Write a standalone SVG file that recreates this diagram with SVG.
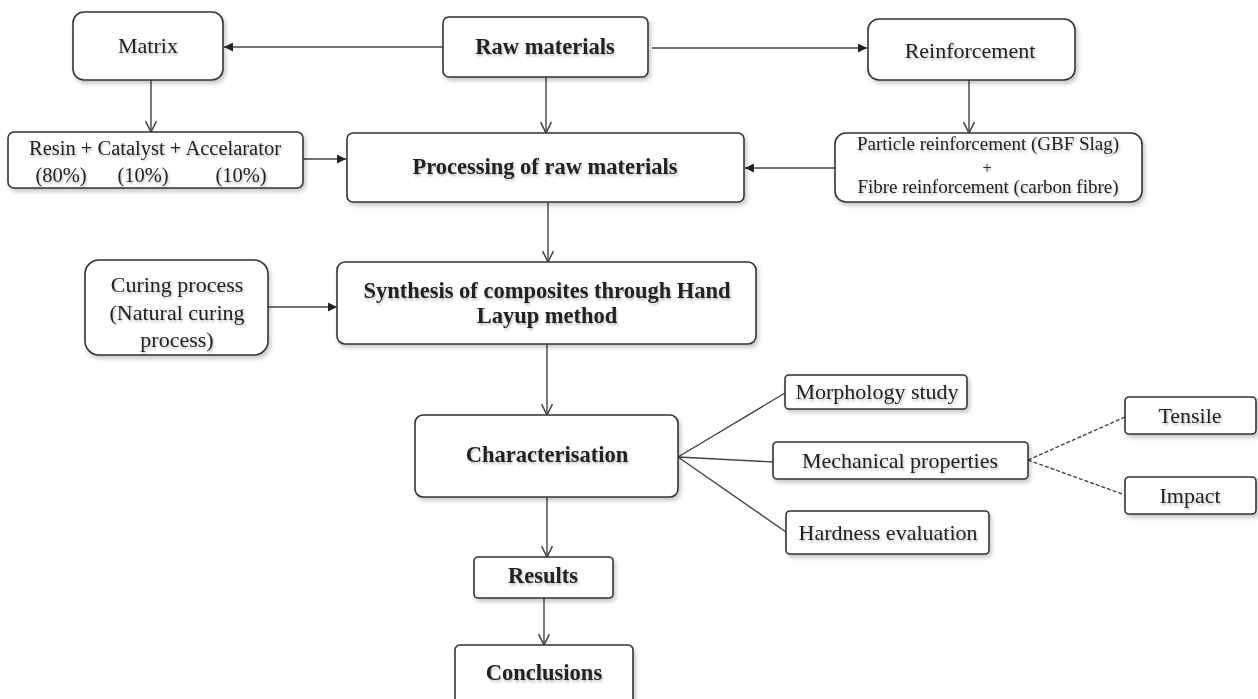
<svg xmlns="http://www.w3.org/2000/svg" width="1258" height="699" viewBox="0 0 1258 699">
<style>
.box{fill:#fff;stroke:#333;stroke-width:1.6;filter:url(#sh)}
.t{font-family:"Liberation Serif","Times New Roman",serif;font-size:22px;fill:#222;text-anchor:middle;filter:url(#tsh)}
.b{font-weight:bold;font-size:22.5px}
.c{fill:none;stroke:#444;stroke-width:1.4}
.fa{marker-end:url(#fill)}
.oa{marker-end:url(#open)}
.d{stroke-dasharray:4 2}
</style>
<defs>
<filter id="sh" x="-10%" y="-10%" width="130%" height="140%">
<feDropShadow dx="2" dy="3" stdDeviation="2" flood-color="#000" flood-opacity="0.22"/>
</filter>
<filter id="tsh" x="-10%" y="-20%" width="130%" height="160%">
<feDropShadow dx="1" dy="2" stdDeviation="1.2" flood-color="#000" flood-opacity="0.25"/>
</filter>
<marker id="fill" viewBox="0 0 10 10" refX="10" refY="5" markerWidth="10" markerHeight="9" markerUnits="userSpaceOnUse" orient="auto">
<path d="M0,0 L10,5 L0,10 z" fill="#222"/>
</marker>
<marker id="open" viewBox="0 0 12 12" refX="11" refY="6" markerWidth="13" markerHeight="13" markerUnits="userSpaceOnUse" orient="auto">
<path d="M1,1 L11,6 L1,11" fill="none" stroke="#444" stroke-width="1.4"/>
</marker>
</defs>

<g id="connectors">
<line class="c fa" x1="443" y1="47" x2="224" y2="47"/>
<line class="c fa" x1="652" y1="48" x2="867" y2="48"/>
<line class="c oa" x1="151" y1="80" x2="151" y2="132"/>
<line class="c oa" x1="546" y1="77" x2="546" y2="133"/>
<line class="c oa" x1="969" y1="80" x2="969" y2="133"/>
<line class="c fa" x1="303" y1="159" x2="346" y2="159"/>
<line class="c fa" x1="835" y1="168" x2="745" y2="168"/>
<line class="c oa" x1="548" y1="202" x2="548" y2="262"/>
<line class="c fa" x1="268" y1="307" x2="337" y2="307"/>
<line class="c oa" x1="547" y1="344" x2="547" y2="415"/>
<line class="c" x1="678" y1="457" x2="785" y2="393"/>
<line class="c" x1="678" y1="457" x2="773" y2="462"/>
<line class="c" x1="678" y1="457" x2="786" y2="532"/>
<line class="c d" x1="1028" y1="460" x2="1125" y2="417"/>
<line class="c d" x1="1028" y1="460" x2="1125" y2="495"/>
<line class="c oa" x1="547" y1="497" x2="547" y2="557"/>
<line class="c oa" x1="544" y1="598" x2="544" y2="645"/>
</g>

<g id="matrix">
<rect class="box" x="73" y="12" width="150" height="68" rx="11"/>
<text class="t" x="148" y="53">Matrix</text>
</g>
<g id="raw">
<rect class="box" x="443" y="17" width="205" height="60" rx="6"/>
<text class="t b" x="545" y="54">Raw materials</text>
</g>
<g id="reinforcement">
<rect class="box" x="868" y="19" width="207" height="61" rx="11"/>
<text class="t" x="970" y="58">Reinforcement</text>
</g>
<g id="resin">
<rect class="box" x="8" y="132" width="295" height="56" rx="6"/>
<text class="t" x="155" y="155" style="font-size:20.5px">Resin + Catalyst + Accelarator</text>
<text class="t" y="182" style="font-size:20.5px"><tspan x="61">(80%)</tspan><tspan x="143">(10%)</tspan><tspan x="241">(10%)</tspan></text>
</g>
<g id="processing">
<rect class="box" x="347" y="133" width="397" height="69" rx="6"/>
<text class="t b" x="545" y="174">Processing of raw materials</text>
</g>
<g id="particle">
<rect class="box" x="835" y="133" width="307" height="69" rx="11"/>
<text class="t" x="988" y="150" style="font-size:19px">Particle reinforcement (GBF Slag)</text>
<text class="t" x="987" y="173" style="font-size:16px">+</text>
<text class="t" x="988" y="193" style="font-size:19px">Fibre reinforcement (carbon fibre)</text>
</g>
<g id="curing">
<rect class="box" x="85" y="260" width="183" height="95" rx="14"/>
<text class="t" x="177" y="292">Curing process</text>
<text class="t" x="177" y="320">(Natural curing</text>
<text class="t" x="177" y="347">process)</text>
</g>
<g id="synthesis">
<rect class="box" x="337" y="262" width="419" height="82" rx="8"/>
<text class="t b" x="547" y="298">Synthesis of composites through Hand</text>
<text class="t b" x="547" y="323">Layup method</text>
</g>
<g id="characterisation">
<rect class="box" x="415" y="415" width="263" height="82" rx="8"/>
<text class="t b" x="547" y="462">Characterisation</text>
</g>
<g id="morphology">
<rect class="box" x="785" y="375" width="182" height="34" rx="4"/>
<text class="t" x="877" y="399">Morphology study</text>
</g>
<g id="mechanical">
<rect class="box" x="773" y="442" width="255" height="37" rx="4"/>
<text class="t" x="900" y="468">Mechanical properties</text>
</g>
<g id="hardness">
<rect class="box" x="786" y="511" width="203" height="43" rx="4"/>
<text class="t" x="888" y="540">Hardness evaluation</text>
</g>
<g id="tensile">
<rect class="box" x="1125" y="397" width="131" height="37" rx="4"/>
<text class="t" x="1190" y="423">Tensile</text>
</g>
<g id="impact">
<rect class="box" x="1125" y="477" width="131" height="37" rx="4"/>
<text class="t" x="1190" y="503">Impact</text>
</g>
<g id="results">
<rect class="box" x="474" y="557" width="139" height="41" rx="4"/>
<text class="t b" x="543" y="583">Results</text>
</g>
<g id="conclusions">
<rect class="box" x="455" y="645" width="178" height="70" rx="5"/>
<text class="t b" x="544" y="680">Conclusions</text>
</g>
</svg>
